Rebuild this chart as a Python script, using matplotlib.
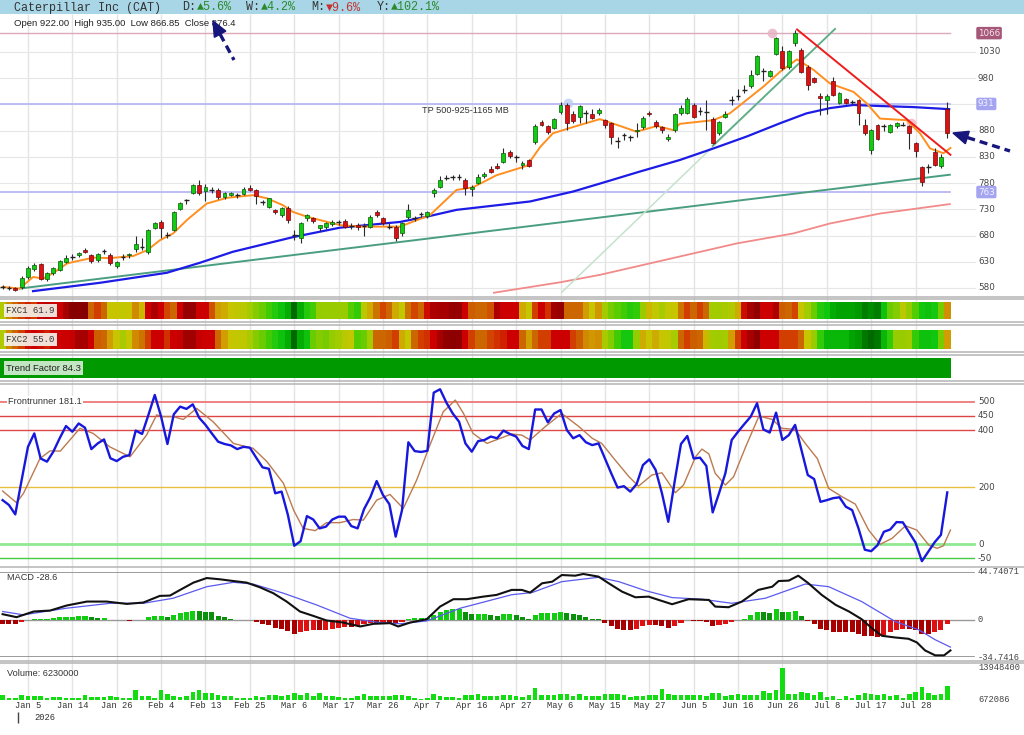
import matplotlib.pyplot as plt
import numpy as np
from matplotlib.colors import LinearSegmentedColormap
from matplotlib.patches import Polygon

# ---------------- data ----------------
# one entry per trading day, index 0 = Dec 29 2025, index 149 = Aug 4 2026
opens = [583, 581, 580, 581, 601, 616, 625, 597, 609, 614, 630, 638, 643, 652, 642, 634, 650, 643, 622, 639,
         642, 655, 659, 648, 695, 706, 682, 690, 731, 746, 761, 776, 765, 767, 766, 753, 758, 757, 759, 770,
         767, 743, 735, 729, 719, 732, 681, 675, 713, 713, 694, 697, 702, 704, 708, 699, 700, 698, 697, 724,
         713, 698, 697, 684, 715, 712, 720, 717, 761, 773, 789, 790, 792, 786, 769, 780, 793, 806, 812, 820,
         839, 830, 815, 824, 858, 896, 888, 886, 915, 929, 911, 906, 914, 912, 913, 900, 894, 862, 872, 866,
         879, 887, 913, 897, 887, 864, 881, 914, 914, 929, 918, 916, 902, 875, 907, 938, 945, 957, 965, 989,
         992, 984, 1027, 1032, 1001, 1048, 1034, 1002, 980, 946, 938, 975, 932, 940, 936, 938, 891, 843, 891, 889,
         878, 888, 892, 888, 856, 810, 811, 840, 813, 922]
highs = [586, 584, 582, 602, 622, 628, 627, 610, 620, 633, 642, 644, 649, 656, 645, 647, 655, 646, 632, 645,
         646, 680, 676, 692, 706, 710, 686, 727, 744, 750, 778, 786, 778, 772, 770, 763, 764, 762, 772, 776,
         769, 748, 752, 731, 734, 736, 690, 705, 722, 716, 701, 706, 710, 709, 711, 703, 704, 703, 719, 729,
         716, 704, 700, 706, 741, 718, 725, 727, 770, 794, 796, 795, 798, 789, 776, 798, 801, 812, 818, 846,
         843, 834, 822, 826, 892, 901, 891, 905, 934, 932, 918, 929, 920, 922, 923, 903, 897, 868, 876, 872,
         894, 908, 918, 900, 889, 873, 913, 928, 945, 932, 926, 938, 907, 899, 918, 946, 960, 967, 995, 1024,
         999, 996, 1059, 1042, 1034, 1071, 1037, 1005, 983, 951, 950, 983, 953, 943, 939, 941, 902, 884, 893, 893,
         893, 897, 896, 891, 858, 812, 817, 846, 835, 935]
lows = [578, 577, 574, 578, 598, 612, 596, 594, 605, 612, 628, 634, 640, 646, 628, 630, 644, 624, 618, 633,
        638, 648, 653, 645, 692, 676, 676, 688, 729, 740, 759, 758, 745, 762, 750, 750, 755, 752, 757, 765,
        740, 738, 732, 722, 716, 703, 672, 665, 708, 704, 688, 693, 699, 700, 694, 692, 690, 680, 694, 716,
        700, 692, 670, 680, 712, 708, 716, 714, 754, 770, 785, 786, 786, 758, 755, 778, 790, 800, 806, 818,
        828, 820, 806, 810, 855, 888, 874, 884, 912, 882, 895, 894, 894, 902, 910, 885, 855, 846, 862, 860,
        868, 884, 908, 885, 876, 860, 878, 910, 912, 904, 910, 881, 855, 872, 905, 929, 938, 952, 962, 986,
        974, 982, 1025, 996, 998, 1041, 990, 958, 970, 910, 912, 946, 930, 931, 930, 891, 872, 835, 862, 880,
        875, 885, 888, 845, 830, 774, 800, 812, 808, 866.85]
closes = [582, 580, 576, 599, 618, 624, 598, 608, 618, 631, 637, 639, 647, 648, 631, 645, 651, 627, 629, 640,
          644, 664, 658, 690, 704, 694, 681, 725, 742, 747, 776, 761, 773, 767, 753, 761, 761, 757, 768, 767,
          755, 744, 751, 724, 732, 710, 682, 704, 719, 708, 700, 704, 706, 705, 697, 698, 697, 699, 716, 720,
          703, 697, 676, 703, 728, 713, 721, 724, 767, 786, 790, 791, 791, 771, 773, 792, 797, 802, 809, 837,
          832, 829, 818, 812, 889, 891, 878, 903, 928, 894, 898, 927, 913, 905, 920, 891, 868, 861, 871, 867,
          881, 905, 911, 888, 881, 868, 911, 924, 940, 907, 917, 915, 857, 897, 911, 939, 946, 958, 986, 1022,
          993, 994, 1057, 999, 1032, 1066, 992, 967, 972, 942, 946, 948, 951, 933, 935, 914, 876, 881, 865, 888,
          890, 894, 891, 875, 842, 783, 810, 815, 830, 876.4]

# moving averages and trend lines as (bar index, price) vertices
ema_idx = [0, 2.7, 4.8, 6.4, 7.9, 10.2, 14.3, 16.9, 20.6, 22.8, 24.8, 26.9, 29.1, 32.2, 35.4, 39.5, 41.7, 44.2,
           45.8, 48, 51.2, 53.2, 56.4, 62.7, 67.4, 71.6, 74.2, 77.9, 82.7, 84.8, 86.8, 90, 94.2, 96.9, 100,
           103.2, 105.8, 106.8, 112.1, 114.7, 120, 122.6, 125.3, 127.9, 130.5, 134.2, 136.3, 138.4, 142.6,
           144.7, 146.3, 148.4, 149.5]
ema_val = [582, 579, 601, 598, 608, 627, 638, 637, 641, 652, 671, 684, 710, 741, 752, 757, 751, 738, 725, 716,
           706, 700, 697, 697, 719, 767, 772, 795, 813, 849, 875, 887, 902, 891, 878, 889, 881, 893, 900, 913,
           964, 992, 1016, 996, 970, 954, 932, 903, 900, 875, 846, 837, 847]
ma50_idx = [4.8, 15.4, 25.9, 31.1, 36.3, 45.8, 53.2, 62.7, 66.9, 71.6, 83.2, 90, 95.3, 100.5, 106.8, 112.1,
            117.4, 122.6, 126.8, 130.5, 134.2, 138.4, 143.6, 149.3]
ma50_val = [574, 590, 609, 628, 649, 677, 695, 706, 716, 729, 745, 764, 783, 802, 824, 846, 869, 894, 913, 923,
            929, 927, 925, 921]
ma200_idx = [77.5, 88, 94.2, 106.8, 115.8, 124.7, 130.5, 138.4, 149.4]
ma200_val = [571, 591, 605, 640, 665, 684, 703, 722, 740]
support_idx, support_val = [2.7, 149.4], [579, 796]
fan_idx, fan_val = [88.2, 131.3], [572, 1074]
fan_dark_idx, fan_dark_val = [112, 131.3], [851, 1074]
down_idx, down_val = [125.3, 149.5], [1073, 834]
marker_idx = [121.3, 89.2, 143.3]
marker_val = [1066, 933, 895]
marker_col = ['#e6b0c2', '#b8ccf2', '#f2b2c0']

price_ticks = [1030, 980, 880, 830, 780, 730, 680, 630, 580]
level_hi, level_mid, level_lo = 1066, 931, 763

# heat strips (0 = deep red ... 100 = deep green)
fxc1 = [60, 45, 40, 30, 25, 30, 20, 15, 20, 20, 10, 0, 0, 0, 40, 30, 40, 55, 55, 56,
        55, 45, 52, 20, 12, 20, 32, 40, 20, 5, 5, 20, 20, 35, 48, 50, 55, 57, 58, 63,
        68, 72, 78, 82, 86, 90, 100, 90, 82, 78, 66, 65, 65, 65, 65, 75, 80, 58, 50, 42,
        32, 40, 50, 56, 42, 32, 40, 22, 12, 10, 10, 5, 5, 20, 38, 40, 40, 35, 12, 20,
        20, 20, 50, 55, 30, 20, 28, 8, 5, 40, 40, 40, 48, 55, 47, 63, 70, 74, 78, 82,
        80, 65, 52, 56, 62, 56, 55, 42, 30, 40, 30, 40, 63, 63, 62, 60, 50, 22, 10, 3,
        20, 20, 12, 38, 40, 32, 55, 63, 72, 82, 85, 90, 92, 92, 92, 93, 97, 95, 97, 86,
        72, 68, 58, 66, 75, 85, 86, 84, 70, 46]
fxc2 = [60, 45, 40, 30, 22, 20, 22, 25, 20, 20, 20, 18, 10, 10, 20, 38, 40, 48, 55, 62,
        55, 45, 42, 30, 20, 20, 28, 20, 18, 8, 8, 18, 20, 20, 40, 48, 55, 56, 57, 62,
        68, 72, 78, 82, 86, 90, 100, 90, 86, 72, 68, 70, 66, 63, 58, 56, 75, 72, 63, 40,
        40, 38, 30, 50, 55, 40, 30, 28, 20, 10, 3, 2, 3, 20, 30, 40, 40, 32, 28, 25,
        20, 20, 40, 48, 40, 30, 30, 20, 20, 20, 30, 38, 45, 47, 46, 62, 68, 78, 84, 84,
        66, 50, 55, 50, 55, 56, 62, 40, 30, 38, 40, 52, 63, 64, 63, 48, 30, 20, 10, 3,
        20, 20, 20, 30, 30, 30, 40, 55, 65, 80, 88, 88, 88, 88, 92, 93, 98, 100, 98, 88,
        80, 65, 65, 64, 80, 86, 86, 85, 70, 48]
trend_factor = [84.3] * 150

# frontrunner oscillator
frontrunner = [154, 137, 104, 224, 341, 388, 300, 289, 324, 371, 414, 394, 423, 408, 333, 353, 367, 301, 291, 306,
               312, 398, 386, 453, 523, 447, 351, 455, 482, 474, 490, 443, 418, 388, 359, 351, 346, 333, 341, 338,
               303, 269, 264, 178, 184, 102, -6, 10, 98, 86, 55, 61, 86, 96, 96, 63, 55, 122, 164, 221,
               172, 140, 26, 119, 357, 326, 323, 327, 531, 543, 496, 458, 429, 353, 324, 361, 365, 377, 371, 398,
               386, 377, 344, 333, 472, 472, 427, 458, 470, 400, 371, 382, 357, 347, 353, 300, 248, 198, 203, 184,
               210, 277, 297, 260, 178, 78, 219, 351, 379, 300, 303, 274, 111, 178, 248, 365, 394, 421, 447, 494,
               402, 391, 461, 365, 382, 418, 330, 242, 228, 148, 154, 161, 164, 131, 119, 55, -20, -25, -4, 43,
               51, 77, 76, 40, 5, -60, -27, 6, 32, 181.1]
fr_sig_idx = [0, 2.2, 3.3, 5.9, 7.5, 9.1, 12.2, 14.3, 16.9, 20.1, 22.7, 24.3, 25.3, 26.9, 28.5, 30.6, 33.2, 36.4,
              38.5, 39.5, 41.7, 44.3, 45.9, 47.4, 49.3, 51.1, 53.2, 55.3, 56.9, 59, 61.1, 63.2, 65.3, 67.4, 69.5,
              71.4, 72.7, 74.2, 76.4, 78.5, 80.3, 81.9, 83.2, 85.6, 88.2, 90.9, 93, 94.5, 96.6, 98.8, 100.3, 102.4,
              104, 106.1, 107.4, 109.3, 110.3, 111.4, 112.4, 114, 115.3, 117.2, 119.3, 121.4, 122.9, 125, 126.6,
              128.5, 130.3, 132.4, 134.5, 136.6, 138.4, 140.3, 142.4, 144.2, 146.1, 147.4, 148.4, 149.5]
fr_sig_val = [186, 145, 178, 300, 327, 326, 406, 388, 341, 306, 382, 453, 447, 447, 437, 476, 429, 353,
              341, 336, 289, 213, 119, 55, 47, 75, 75, 86, 84, 154, 174, 125, 224, 347, 464,
              505, 458, 388, 353, 371, 386, 382, 365, 412, 458, 412, 371, 353, 295, 236, 203, 242,
              250, 180, 207, 306, 333, 316, 248, 207, 236, 341, 449, 437, 406, 402, 353,
              300, 195, 166, 140, 49, -1, 20, 64, 49, -4, -15, -6, 49]
fr_levels = [500, 450, 400, 200, 0, -50]
fr_level_col = ['#ee7777', '#dd4444', '#e04848', '#e8c040', '#90e890', '#44cc44']
fr_level_lw = [1.3, 1.0, 1.0, 1.0, 2.0, 1.0]

# MACD
macd_idx = [0, 2.2, 4.9, 7.5, 10.1, 13.3, 16.4, 19.6, 22.2, 24.8, 26.4, 28, 30.1, 32.2, 34.3, 36.4, 38.5, 40.6,
            42.7, 44.8, 46.9, 49, 51.1, 53.7, 56.4, 58.5, 61.1, 62.4, 64.3, 66.9, 69, 71.1, 73.2, 75.8, 77.9, 80.3,
            81.9, 83.2, 85.1, 86.7, 88.2, 90.3, 91.6, 94, 95.6, 97.7, 99.8, 101.9, 103.5, 105.6, 108.2, 111.4,
            112.4, 114.5, 116.6, 119.2, 121.4, 122.4, 124, 125.5, 127.1, 129.2, 131.4, 133.5, 135.5, 137.1,
            138.7, 140.8, 142.9, 144.2, 145.5, 147.1, 148.5, 149.5]
macd_val = [5.3, 2.5, 7.8, 8.7, 13.4, 17.1, 17.1, 14.9, 16.2, 22.4, 22.7, 28, 34.8, 39.1, 37.9, 36.3, 34.8, 30.4,
            24.9, 17.1, 7.8, 3.7, -0.6, -2.5, -6.2, -3.7, -3.1, -6.2, -2.5, 0.6, 12.4, 19.3, 19.3, 21.7, 23.3, 28,
            28, 25.5, 34.2, 35.7, 41.9, 41.3, 42.9, 40.4, 34.2, 26.4, 21.1, 21.7, 18.6, 14.6, 19.3, 18.6,
            12.4, 11.8, 17.1, 28, 31, 36.3, 36.7, 41.3, 34.2, 23.3, 14, 7.8, 0.6, -7.8,
            -14.9, -16.5, -17.7, -21.1, -28.6, -33.2, -33.2, -28.6]
sig_idx = [0, 3.3, 10.1, 17, 22.2, 26.9, 32.2, 36.4, 39.5, 44.3, 49.5, 54.8, 59, 62.7, 66.9, 72.2, 80.3, 83.5,
           88.2, 94, 97.2, 101.4, 105.6, 110.3, 115, 120.3, 126.6, 130.3, 135.5, 140.8, 144.5, 147.1, 149.5]
sig_val = [7.8, 4.7, 10.9, 15.5, 15.5, 20.2, 31, 35.1, 33.5, 24.9, 14, 1.5, -2.2, -3.7, -1, 10.9, 23.5, 25.5,
           35.7, 39.8, 35.7, 27.3, 20.8, 19.3, 15.5, 20.2, 33.5, 31, 17.1, -1.6, -9.3, -18.6, -25.5]
macd_hist = [-3.7, -3.7, -3.7, -2.2, 0.3, 0.9, 0.9, 0.9, 1.5, 3.1, 3.1, 3.1, 3.7, 4.0, 2.2, 1.9, 1.9, 0.1, -0.6, -0.6,
             -1.2, 0.1, 0.1, 2.5, 3.7, 3.7, 2.5, 4.7, 6.2, 7.1, 8.7, 8.4, 7.8, 7.1, 3.7, 2.5, 1.2, 0.3, 0.1, -0.6,
             -2.2, -3.7, -5.0, -7.8, -8.7, -10.6, -13.0, -11.8, -10.6, -9.9, -9.9, -9.3, -8.7, -7.8, -7.1, -7.1,
             -6.2, -4.0, -3.1, -3.1, -2.5, -2.5, -2.5, -1.9, 0.9, 1.5, 1.5, 1.5, 4.7, 7.8, 9.3, 9.9, 10.2, 7.1,
             5.3, 5.3, 5.3, 4.7, 4.0, 5.3, 5.3, 4.7, 2.5, 0.6, 4.7, 6.2, 6.2, 6.8, 7.8, 6.2, 5.3, 4.3, 3.1, 1.2,
             0.6, -2.5, -5.6, -8.4, -9.3, -9.6, -8.7, -6.2, -5.0, -5.0, -6.2, -7.8, -5.3, -2.5, -0.3, -0.9, -0.9,
             -1.9, -5.6, -5.0, -4.3, -1.9, 0.1, 1.2, 4.7, 7.8, 7.1, 6.8, 9.9, 7.8, 7.8, 8.7, 3.7, -0.9, -4.0,
             -8.4, -9.9, -11.2, -11.8, -11.8, -11.8, -13.0, -14.9, -15.5, -16.2, -14.0, -11.8, -9.9, -8.4, -8.4,
             -9.9, -13.0, -13.0, -11.8, -9.3, -3.7]
macd_top, macd_bottom = 44.74071, -34.7416

# volume (millions of shares)
volume = [2.69, 1.39, 1.39, 2.69, 1.97, 1.97, 1.97, 1.39, 1.68, 1.68, 1.25, 1.25, 1.25, 2.55, 1.68, 1.68, 1.68,
          2.26, 1.68, 1.1, 1.39, 4.57, 2.26, 2.26, 1.39, 4.86, 2.84, 1.97, 1.68, 1.97, 3.85, 4.86, 3.41, 3.41,
          2.69, 2.11, 1.97, 1.39, 1.39, 1.39, 1.97, 1.68, 2.55, 2.55, 2.11, 2.55, 3.56, 2.55, 3.27, 1.97, 3.27,
          2.11, 1.97, 1.68, 1.39, 1.1, 2.26, 2.98, 2.11, 2.11, 2.26, 2.11, 2.69, 2.69, 1.97, 1.1, 0.75, 1.39,
          2.84, 1.97, 1.68, 1.68, 1.1, 2.4, 2.4, 2.98, 1.97, 2.26, 2.11, 2.55, 2.4, 1.97, 1.68, 2.55, 5.58, 2.4,
          2.69, 2.69, 2.84, 2.84, 2.11, 2.84, 2.26, 1.97, 1.97, 2.84, 2.84, 3.12, 2.4, 1.83, 2.11, 2.11, 2.4,
          2.4, 5.15, 2.84, 2.69, 2.69, 2.69, 2.55, 2.55, 1.97, 3.41, 3.41, 2.11, 2.4, 2.84, 2.55, 2.4, 2.4, 4.14,
          3.56, 4.86, 13.95, 3.12, 3.12, 3.7, 3.56, 2.4, 3.7, 1.68, 1.97, 0.96, 1.97, 1.25, 2.4, 3.41, 3.12,
          2.69, 3.12, 2.26, 2.55, 1.39, 3.12, 3.85, 6.01, 3.41, 2.4, 3.12, 6.23]
vol_top, vol_bottom = 13948400, 672086

date_labels = ['Jan 5', 'Jan 14', 'Jan 26', 'Feb 4', 'Feb 13', 'Feb 25', 'Mar 6', 'Mar 17', 'Mar 26', 'Apr 7',
               'Apr 16', 'Apr 27', 'May 6', 'May 15', 'May 27', 'Jun 5', 'Jun 16', 'Jun 26', 'Jul 8', 'Jul 17',
               'Jul 28']
date_idx = [4 + 7 * k for k in range(len(date_labels))]

# ---------------- layout ----------------
W, H = 1024, 735
X0, STEP = 2.6, 6.34            # pixel of bar 0, pixels per bar
XL = (-X0 / STEP, (W - X0) / STEP)
RX = 978 / W                    # right label column
MONO = ['Liberation Mono', 'DejaVu Sans Mono']
SANS = ['Liberation Sans', 'DejaVu Sans']
TXT = '#333333'

fig = plt.figure(figsize=(W / 100, H / 100), dpi=100)


def panel(top, bottom):
    ax = fig.add_axes([0, 1 - bottom / H, 1, (bottom - top) / H])
    ax.set_axis_off()
    ax.set_xlim(*XL)
    return ax


def ylim_from(top, bottom, v1, y1, v2, y2):
    k = (v1 - v2) / (y2 - y1)
    return v1 + (y1 - bottom) * k, v1 + (y1 - top) * k


idx = np.arange(len(closes))

# vertical grid behind all panels
bg = panel(14, 700)
bg.vlines(date_idx, 0, 1, color='#e4e4e4', lw=1)
bg.set_ylim(0, 1)

# header bar
hd = fig.add_axes([0, 1 - 14 / H, 1, 14 / H])
hd.set_xlim(0, W)
hd.set_ylim(14, 0)
hd.set_xticks([])
hd.set_yticks([])
for s in hd.spines.values():
    s.set_visible(False)
hd.set_facecolor('#a9d6e6')
header = [(14, 'Caterpillar Inc (CAT)', TXT), (182, 'D:', TXT), (196.5, '▲5.6%', '#2a8a2a'),
          (246.5, 'W:', TXT), (261, '▲4.2%', '#2a8a2a'), (311.5, 'M:', TXT), (326, '▼9.6%', '#c83030'),
          (376.5, 'Y:', TXT), (391, '▲102.1%', '#2a8a2a')]
for x, s, c in header:
    hd.text(x, 7.5, s, color=c, fontsize=8.5, family=MONO, va='center', ha='left')

# ---------------- price panel ----------------
ap = panel(15, 296)
ap.set_ylim(*ylim_from(15, 296, 1030, 52, 580, 288))
for g in range(580, 1031, 50):
    ap.axhline(g, xmax=0.952, color='#e6e6e6', lw=0.8, zorder=0)
ap.axhline(level_hi, xmax=0.928, color='#dcaab8', lw=1, zorder=1)
ap.axhline(level_mid, xmax=0.928, color='#b8b8f4', lw=1.3, zorder=1)
ap.axhline(level_lo, xmax=0.928, color='#b8b8f4', lw=1.3, zorder=1)

ap.plot(ma200_idx, ma200_val, color='#f28a8a', lw=1.3, zorder=2)
ap.plot(support_idx, support_val, color='#4a9e80', lw=1.4, zorder=2)
ap.plot(fan_idx, fan_val, color='#c4e2cc', lw=1.1, zorder=2)
ap.plot(fan_dark_idx, fan_dark_val, color='#5fae8a', lw=1.3, zorder=2)
ap.plot(ma50_idx, ma50_val, color='#1c1ce6', lw=1.6, zorder=2)
ap.plot(ema_idx, ema_val, color='#ff8f1f', lw=1.4, zorder=2)
ap.plot(down_idx, down_val, color='#ee1c1c', lw=1.4, zorder=6)
for mi, mv, mc in zip(marker_idx, marker_val, marker_col):
    ap.plot(mi, mv, 'o', ms=7, mfc=mc, mec='none', alpha=0.8, zorder=1)

o, h, l, c = (np.array(a, float) for a in (opens, highs, lows, closes))
body = np.abs(c - o)
doji = body < 1.5
up = (c >= o) & ~doji
dn = (c < o) & ~doji
ap.vlines(idx, l, h, color='#2a2a2a', lw=0.8, zorder=3)
ap.bar(idx[up], body[up], bottom=o[up], width=0.62, color='#11cc11', edgecolor='#0a5a0a', lw=0.5, zorder=4)
ap.bar(idx[dn], body[dn], bottom=c[dn], width=0.62, color='#dd1111', edgecolor='#6a0a0a', lw=0.5, zorder=4)
ap.hlines(c[doji], idx[doji] - 0.38, idx[doji] + 0.38, color='#222222', lw=1.0, zorder=4)

yt = ap.get_yaxis_transform()
for t in price_ticks:
    ap.text(RX, t, str(t), transform=yt, fontsize=6.3, color='#444444', va='center', ha='left')
ap.text(RX, level_hi, str(level_hi), transform=yt, fontsize=6.3, color='#f6e2ea', va='center', ha='left',
        bbox=dict(boxstyle='round,pad=0.2', fc='#a6587a', ec='none'))
for lv in (level_mid, level_lo):
    ap.text(RX, lv, str(lv), transform=yt, fontsize=6.3, color='#f4f4ff', va='center', ha='left',
            bbox=dict(boxstyle='round,pad=0.2', fc='#a4a4f0', ec='none'))
ap.text(66.1, 919, 'TP 500-925-1165 MB', fontsize=6.6, family=SANS, color=TXT, va='center', ha='left')

# ---------------- heat strips ----------------
heat = LinearSegmentedColormap.from_list('heat', [
    (0.0, '#870000'), (0.10, '#a80000'), (0.20, '#cc0000'), (0.30, '#d23e00'), (0.40, '#cc6600'),
    (0.48, '#d29e00'), (0.55, '#c6c600'), (0.65, '#9acc00'), (0.75, '#55cc00'), (0.85, '#10c810'),
    (0.92, '#00a400'), (1.0, '#006a00')])
for top, bottom, vals in ((302, 319, fxc1), (330, 349, fxc2)):
    ah = panel(top, bottom)
    ah.set_ylim(0, 1)
    ah.bar(idx, 1, width=1.04, color=heat(np.array(vals) / 100), lw=0)
at = panel(358, 378)
at.set_ylim(0, 1)
at.bar(idx, 1, width=1.04, color=['#009900' if v > 60 else '#cc0000' for v in trend_factor], lw=0)

# ---------------- frontrunner ----------------
af = panel(385, 566)
af.set_ylim(*ylim_from(385, 566, 500, 401.5, -50, 558.3))
ft = af.get_yaxis_transform()
for lv, col, lw in zip(fr_levels, fr_level_col, fr_level_lw):
    af.axhline(lv, xmax=0.951, color=col, lw=lw, zorder=1)
    af.text(RX, lv, str(lv), transform=ft, fontsize=6.3, color='#444444', va='center', ha='left')
af.plot(fr_sig_idx, fr_sig_val, color='#bb7a50', lw=1.0, zorder=2)
af.plot(idx, frontrunner, color='#1818dd', lw=1.7, zorder=3)

# ---------------- MACD ----------------
am = panel(572, 657)
am.set_ylim(macd_bottom, macd_top)
mt = am.get_yaxis_transform()
hist = np.array(macd_hist)
prev = np.r_[hist[0], hist[:-1]]
hcol = np.where(hist >= 0, np.where(hist >= prev, '#11cc11', '#0a900a'),
                np.where(hist <= prev, '#a80000', '#dd1111'))
am.bar(idx, hist, width=0.8, color=hcol, lw=0, zorder=2)
am.axhline(0, xmax=0.951, color='#999999', lw=1, zorder=1)
am.axhline(macd_top, xmax=0.951, color='#8a8a8a', lw=1.2, zorder=1)
am.axhline(macd_bottom, xmax=0.951, color='#8a8a8a', lw=1.2, zorder=1)
am.plot(sig_idx, sig_val, color='#5a5aee', lw=0.9, zorder=3)
am.plot(macd_idx, macd_val, color='#111111', lw=1.5, zorder=4)
for v, s in ((macd_top, '44.74071'), (0, '0'), (macd_bottom, '-34.7416')):
    am.text(RX, v, s, transform=mt, fontsize=6.3, family=MONO, color='#444444', va='center', ha='left')

# ---------------- volume ----------------
av = panel(662, 700)
av.set_ylim(*ylim_from(662, 700, vol_top, 668, vol_bottom, 699.5))
vol = np.array(volume) * 1e6
av.bar(idx, vol - vol_bottom, bottom=vol_bottom, width=0.72, color='#11dd11', lw=0)
vt = av.get_yaxis_transform()
for v in (vol_top, vol_bottom):
    av.text(RX, v, str(v), transform=vt, fontsize=6.3, family=MONO, color='#444444', va='center', ha='left')

# ---------------- dates ----------------
ad = panel(700, 735)
ad.set_ylim(735, 700)
for di, dl in zip(date_idx, date_labels):
    ad.text(di, 706, dl, fontsize=6.3, family=MONO, color=TXT, ha='center', va='center')
ad.vlines(2.5, 711.5, 722.5, color='#444444', lw=1)
ad.text(5.0, 717.5, '2026', fontsize=6.3, family=MONO, color=TXT, ha='left', va='center')

# ---------------- overlay: separators, labels, arrows ----------------
ov = fig.add_axes([0, 0, 1, 1], facecolor='none')
ov.set_axis_off()
ov.set_xlim(0, W)
ov.set_ylim(H, 0)
for y in (296.5, 298.5, 321.5, 324.5, 351.5, 354.5, 380.5, 383.5, 567, 660.5, 663):
    ov.axhline(y, color='#b4b4b4', lw=1.1)

ov.text(14, 23, 'Open 922.00  High 935.00  Low 866.85  Close 876.4', fontsize=6.8, family=SANS,
        color='#222222', va='center', ha='left')
box = dict(boxstyle='square,pad=0.25', fc='#f6f6f0', ec='none', alpha=0.9)
ov.text(6, 310.5, 'FXC1 61.9', fontsize=6.5, family=MONO, color=TXT, va='center', ha='left', bbox=box)
ov.text(6, 339.5, 'FXC2 55.0', fontsize=6.5, family=MONO, color=TXT, va='center', ha='left', bbox=box)
ov.text(6, 368, 'Trend Factor 84.3', fontsize=6.8, family=SANS, color='#222222', va='center', ha='left',
        bbox=dict(boxstyle='square,pad=0.25', fc='#d8eed8', ec='none', alpha=0.9))
ov.text(8, 401.5, 'Frontrunner 181.1', fontsize=6.6, family=SANS, color=TXT, va='center', ha='left',
        bbox=dict(boxstyle='square,pad=0.15', fc='white', ec='none'))
ov.text(7, 578, 'MACD -28.6', fontsize=6.6, family=SANS, color=TXT, va='center', ha='left')
ov.text(7, 673, 'Volume: 6230000', fontsize=6.6, family=SANS, color=TXT, va='center', ha='left')


def arrow(tip, tail, color='#16167c'):
    tip, tail = np.array(tip, float), np.array(tail, float)
    u = (tip - tail) / np.hypot(*(tip - tail))
    n = np.array([-u[1], u[0]])
    base = tip - 15 * u
    ov.add_patch(Polygon([tip, base + 6.5 * n, base - 6.5 * n], closed=True, color=color, zorder=20))
    ov.plot([base[0], tail[0]], [base[1], tail[1]], color=color, lw=2.4, ls=(0, (2.4, 1.5)),
            solid_capstyle='butt', zorder=20)


arrow((213, 21), (234, 60))
arrow((953, 133), (1010, 151))

fig.savefig('out.png', dpi=100)
